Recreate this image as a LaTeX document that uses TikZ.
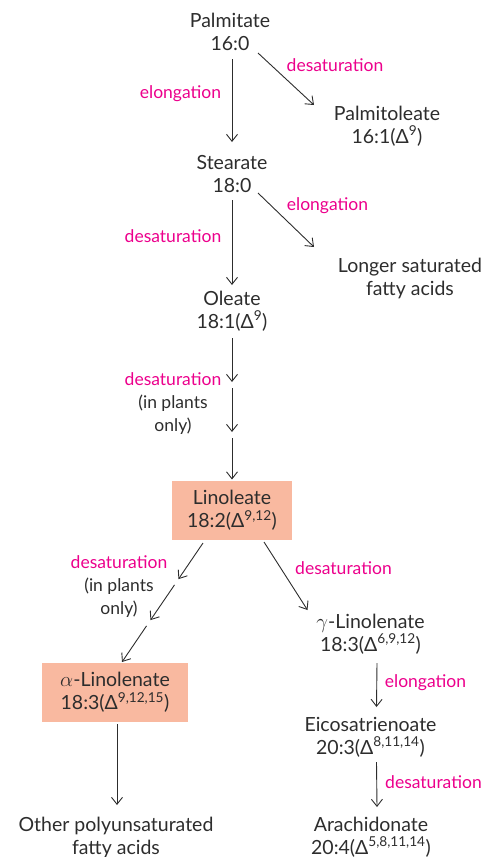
\documentclass[tikz,border=0pt]{standalone}
\usepackage{fontspec}
\setmainfont{Lato}
\usetikzlibrary{arrows.meta,positioning}
\definecolor{Ink}{RGB}{45,45,45}
\definecolor{HotPink}{RGB}{236,0,140}
\definecolor{Salmon}{RGB}{249,185,160}
\newcommand{\bnd}[1]{(Δ\textsuperscript{#1})}

\begin{document}
\begin{tikzpicture}[x=1pt, y=-1pt,
	font=\fontsize{17.5}{23}\selectfont,
	acid/.style={align=center, text=Ink, inner sep=1pt, font=\fontsize{19.5}{23}\selectfont},
	hilite/.style={acid, fill=Salmon, inner sep=0pt, minimum height=59pt},
	enz/.style={text=HotPink, inner sep=1pt},
	note/.style={align=center, text=Ink, inner sep=1pt},
	arr/.style={draw=Ink, line width=0.9pt, -{Straight Barb[length=7pt,width=11pt]}}]
	\useasboundingbox (0,0) rectangle (492,857);
	\node[acid] (palm) at (230,32) {Palmitate\\16:0};
	\node[acid] (ptol) at (387,126) {Palmitoleate\\16:1\bnd{9}};
	\node[acid] (stea) at (232,174) {Stearate\\18:0};
	\node[acid] (lsat) at (410,278) {Longer saturated\\fatty acids};
	\node[acid] (olea) at (232,311) {Oleate\\18:1\bnd{9}};
	\node[hilite, minimum width=120pt] (lino) at (232,510.5) {Linoleate\\18:2\bnd{9,12}};
	\node[hilite, minimum width=146pt] (alin) at (115,692.5) {$\alpha$-Linolenate\\18:3\bnd{9,12,15}};
	\node[acid] (glin) at (370.5,634) {$\gamma$-Linolenate\\18:3\bnd{6,9,12}};
	\node[acid] (eico) at (370.5,737) {Eicosatrienoate\\20:3\bnd{8,11,14}};
	\node[acid] (arac) at (371,837) {Arachidonate\\20:4\bnd{5,8,11,14}};
	\node[acid] (poly) at (116,837) {Other polyunsaturated\\fatty acids};

	\node[enz] (elo1) at (180.5,94) {elongation};
	\node[enz] (des1) at (335,65) {desaturation};
	\node[enz] (des2) at (173,236) {desaturation};
	\node[enz] (elo2) at (327.5,206) {elongation};
	\node[note] (des3) at (173,404) {\textcolor{HotPink}{desaturation}\\(in plants\\only)};
	\node[note] (des4) at (119,587) {\textcolor{HotPink}{desaturation}\\(in plants\\only)};
	\node[enz] (des5) at (343.5,568) {desaturation};
	\node[enz] (elo3) at (425.5,683) {elongation};
	\node[enz] (des6) at (433.5,782) {desaturation};

	\coordinate (ol1) at (232,385);
	\coordinate (ol2) at (232,435);
	\coordinate (lb1) at (176.5,582);
	\coordinate (lb2) at (148.5,623);

	\draw[arr] ([shift={(2,27)}]palm.center) -- ([shift={(0,-32)}]stea.center);
	\draw[arr] ([shift={(28,21)}]palm.center) -- ([shift={(-73,-21)}]ptol.center);
	\draw[arr] ([shift={(0,26)}]stea.center) -- ([shift={(0,-26)}]olea.center);
	\draw[arr] ([shift={(26,19)}]stea.center) -- ([shift={(-96,-31)}]lsat.center);
	\draw[arr, shorten >=3pt] ([shift={(0,27)}]olea.center) -- (ol1);
	\draw[arr, shorten <=3pt, shorten >=3pt] (ol1) -- (ol2);
	\draw[arr, shorten <=3pt] (ol2) -- ([shift={(0,-31)}]lino.center);
	\draw[arr, shorten >=3.5pt] ([shift={(-29,32.5)}]lino.center) -- (lb1);
	\draw[arr, shorten <=3.5pt, shorten >=3.5pt] (lb1) -- (lb2);
	\draw[arr, shorten <=3.5pt] (lb2) -- ([shift={(7,-30.5)}]alin.center);
	\draw[arr] ([shift={(32,31.5)}]lino.center) -- ([shift={(-63,-24)}]glin.center);
	\draw[arr] ([shift={(2,31.5)}]alin.center) -- ([shift={(1,-32)}]poly.center);
	\draw[arr] ([shift={(6.5,29)}]glin.center) -- ([shift={(6,-30)}]eico.center);
	\draw[arr] ([shift={(6,25)}]eico.center) -- ([shift={(6,-30)}]arac.center);
\end{tikzpicture}
\end{document}
